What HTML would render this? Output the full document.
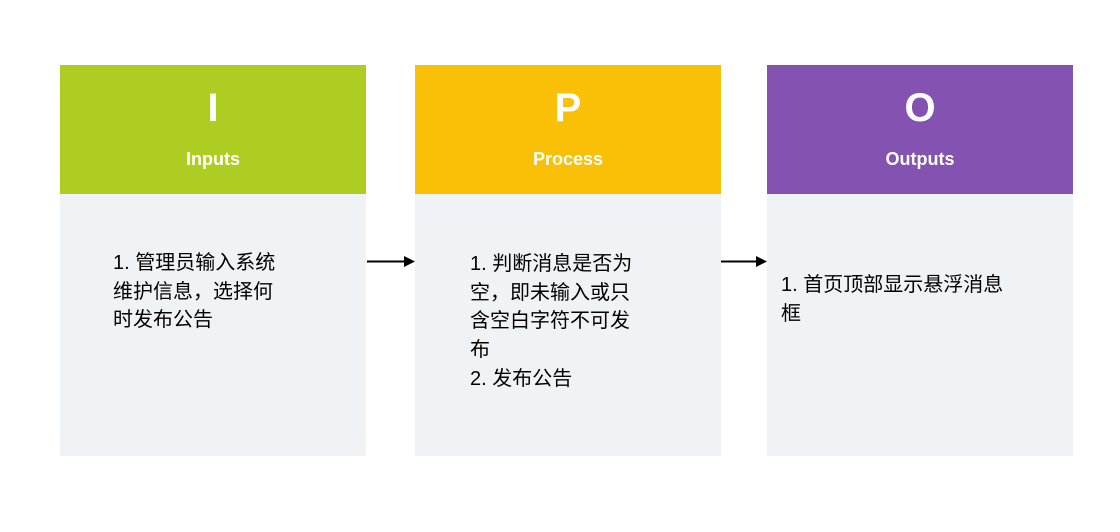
<!DOCTYPE html>
<html><head><meta charset="utf-8"><style>
body{margin:0;width:1120px;height:532px;background:#fff;position:relative;font-family:"Liberation Sans","Noto Sans CJK SC",sans-serif;overflow:hidden}
.h{position:absolute;top:65px;height:129px;width:306px;color:#fff;text-align:center;font-weight:bold}
.h .L{position:absolute;top:84px;left:0;right:0;font-size:40px;line-height:1;top:88px}
.h .L{top:23px}
.h .S{position:absolute;top:84px;left:0;right:0;font-size:18px}
.b{position:absolute;top:194px;height:262px;width:306px;background:#eff3f6}
.t{position:absolute;font-size:20px;line-height:28.7px;color:#000;white-space:nowrap}
</style></head><body>
<div class="h" style="left:60px;background:#adcd22"><div class="L">I</div><div class="S">Inputs</div></div>
<div class="b" style="left:60px"></div>
<div class="t" style="left:113px;top:249px">1. 管理员输入系统<br>维护信息，选择何<br>时发布公告</div>

<div class="h" style="left:415px;background:#fabf07"><div class="L">P</div><div class="S">Process</div></div>
<div class="b" style="left:415px"></div>
<div class="t" style="left:470px;top:250px">1. 判断消息是否为<br>空，即未输入或只<br>含空白字符不可发<br>布<br>2. 发布公告</div>

<div class="h" style="left:767px;background:#8452b0"><div class="L">O</div><div class="S">Outputs</div></div>
<div class="b" style="left:767px"></div>
<div class="t" style="left:781px;top:271px">1. 首页顶部显示悬浮消息<br>框</div>

<svg width="1120" height="532" style="position:absolute;left:0;top:0">
<line x1="367" y1="261.5" x2="406" y2="261.5" stroke="#000" stroke-width="2"/>
<polygon points="415,261.5 404,256 404,267" fill="#000"/>
<line x1="721" y1="261.5" x2="758" y2="261.5" stroke="#000" stroke-width="2"/>
<polygon points="767,261.5 756,256 756,267" fill="#000"/>
</svg>
</body></html>
